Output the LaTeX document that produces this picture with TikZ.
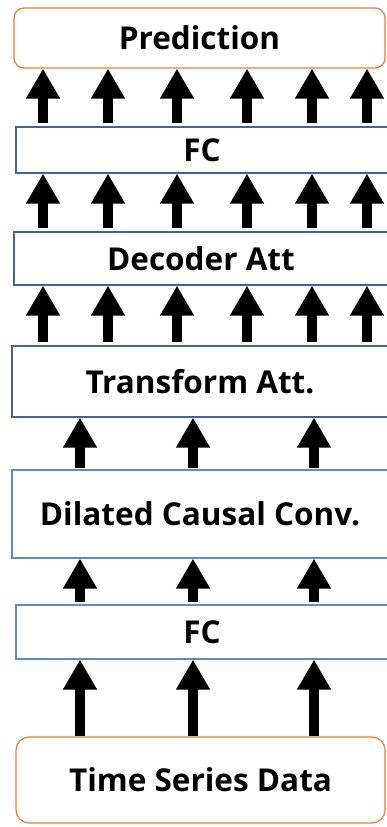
\documentclass[tikz,border=0pt]{standalone}
\usepackage{fontspec}
\setmainfont{Open Sans}
\usetikzlibrary{arrows.meta}
\definecolor{orangeline}{HTML}{ED7D31}
\definecolor{slateblue}{HTML}{41649A}
\definecolor{lightblue}{HTML}{5B8CC8}
\tikzset{
  layerbox/.style={draw=slateblue, line width=1.2pt, fill=white, inner sep=0pt,
    font=\fontsize{31.5}{34}\selectfont\bfseries},
  lightbox/.style={layerbox, draw=lightblue},
  endbox/.style={layerbox, draw=orangeline, rounded corners=10pt},
  uparrow/.style={line width=10pt, -{Triangle[width=32pt,length=30pt]}},
}
\begin{document}
\begin{tikzpicture}[x=1pt,y=-1pt]
\useasboundingbox (0,0) rectangle (387,827);
% layer boxes, top to bottom
\node[endbox,  minimum width=371pt, minimum height=60pt] (pred)  at (199.5,38)  {Prediction};
\node[layerbox,minimum width=372pt, minimum height=46pt] (fcb)   at (202,150)   {FC};
\node[layerbox,minimum width=374pt, minimum height=53pt] (dec)   at (201,258.5) {Decoder Att};
\node[layerbox,minimum width=376pt, minimum height=71pt] (trans) at (200,381.5) {Transform Att.};
\node[lightbox,minimum width=376pt, minimum height=88pt] (dil)   at (200,514)   {Dilated Causal Conv.};
\node[lightbox,minimum width=372pt, minimum height=54pt] (fca)   at (202,632)   {FC};
\node[endbox,  minimum width=369pt, minimum height=86pt, rounded corners=13pt] (tsd) at (200.5,780) {Time Series Data};
% six parallel arrows between the upper layers
\foreach \x in {43,108,177,247,312,367}{
  \draw[uparrow] ([yshift=3pt]fcb.north -| \x,0) -- (pred.south -| \x,0);
  \draw[uparrow] ([yshift=3pt]dec.north -| \x,0) -- (fcb.south -| \x,0);
  \draw[uparrow] ([yshift=3pt]trans.north -| \x,0) -- (dec.south -| \x,0);
}
% three parallel arrows between the lower layers
\foreach \x in {80,193,314}{
  \draw[uparrow] ([yshift=1pt]dil.north -| \x,0) -- (trans.south -| \x,0);
  \draw[uparrow] ([yshift=2pt]fca.north -| \x,0) -- (dil.south -| \x,0);
  \draw[uparrow] (tsd.north -| \x,0) -- (fca.south -| \x,0);
}
\end{tikzpicture}
\end{document}
